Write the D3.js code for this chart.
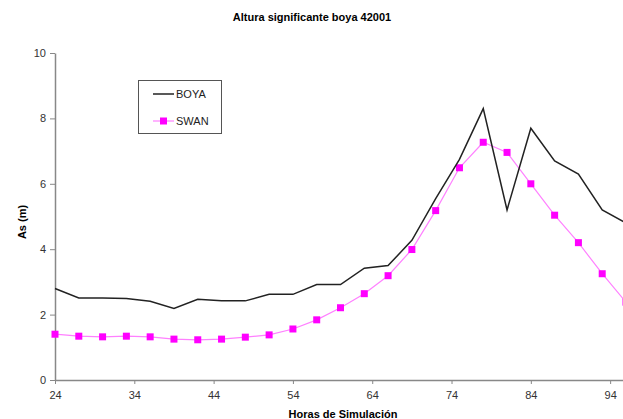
<!DOCTYPE html>
<html>
<head>
<meta charset="utf-8">
<script src="https://cdn.jsdelivr.net/npm/d3@7"></script>
<style>
body { margin: 0; background: #fff; }
svg { display: block; font-family: "Liberation Sans", Arial, sans-serif; }
</style>
</head>
<body>
<div id="chart"></div>
<script>
var hours = [24, 27, 30, 33, 36, 39, 42, 45, 48, 51, 54, 57, 60, 63, 66, 69, 72, 75, 78, 81, 84, 87, 90, 93, 96];
var boya = [2.80, 2.51, 2.51, 2.49, 2.41, 2.19, 2.47, 2.42, 2.42, 2.62, 2.62, 2.92, 2.92, 3.42, 3.50, 4.27, 5.55, 6.75, 8.30, 5.20, 7.70, 6.70, 6.30, 5.20, 4.80];
var swan = [1.40, 1.34, 1.32, 1.34, 1.32, 1.25, 1.23, 1.25, 1.31, 1.38, 1.56, 1.84, 2.21, 2.64, 3.19, 3.99, 5.18, 6.49, 7.27, 6.96, 6.00, 5.04, 4.20, 3.25, 2.38];
var xTicks = [24, 34, 44, 54, 64, 74, 84, 94];
var yTicks = [0, 2, 4, 6, 8, 10];
var seriesNames = ["BOYA", "SWAN"];

var width = 623, height = 419;

var svg = d3.select("#chart")
.append("svg")
.attr("width", width)
.attr("height", height);

// the plot runs past the right edge of the picture
var x = d3.scaleLinear()
.domain([24, 96])
.range([55, 626]);

var y = d3.scaleLinear()
.domain([0, 10])
.range([380, 53]);

// title
svg.append("text")
.attr("x", 312)
.attr("y", 21)
.attr("text-anchor", "middle")
.style("font-size", "11px")
.style("font-weight", "bold")
.text("Altura significante boya 42001");

// axes
var xAxis = svg.append("g")
.attr("transform", "translate(0,380)")
.call(d3.axisBottom(x).tickValues(xTicks).tickSize(4).tickSizeOuter(0).tickFormat(d3.format("d")));

var yAxis = svg.append("g")
.attr("transform", "translate(55,0)")
.call(d3.axisLeft(y).tickValues(yTicks).tickSize(5).tickSizeOuter(0));

[xAxis, yAxis].forEach(function (ax) {
    ax.select(".domain").attr("stroke", "#888").attr("stroke-width", 1.5);
    ax.selectAll(".tick line").attr("stroke", "#888");
    ax.selectAll(".tick text")
    .attr("fill", "#333")
    .style("font-size", "11px")
    .style("font-family", "Liberation Sans, Arial, sans-serif");
});
xAxis.selectAll(".tick text").attr("dy", "1.1em");
yAxis.selectAll(".tick text").attr("x", -9);

// axis labels
svg.append("text")
.attr("x", 343)
.attr("y", 418)
.attr("text-anchor", "middle")
.style("font-size", "11px")
.style("font-weight", "bold")
.text("Horas de Simulación");

svg.append("text")
.attr("transform", "translate(26,222) rotate(-90)")
.attr("text-anchor", "middle")
.style("font-size", "11px")
.style("font-weight", "bold")
.text("As (m)");

var line = d3.line()
.x(function (d) { return x(d[0]); })
.y(function (d) { return y(d[1]); });

var boyaData = hours.map(function (h, i) { return [h, boya[i]]; });
var swanData = hours.map(function (h, i) { return [h, swan[i]]; });

svg.append("path")
.datum(swanData)
.attr("fill", "none")
.attr("stroke", "#ff80ff")
.attr("stroke-width", 1.2)
.attr("d", line);

svg.append("g")
.selectAll("rect")
.data(swanData)
.enter()
.append("rect")
.attr("x", function (d) { return x(d[0]) - 3.5; })
.attr("y", function (d) { return y(d[1]) - 3.5; })
.attr("width", 7)
.attr("height", 7)
.attr("fill", "#ff00ff");

svg.append("path")
.datum(boyaData)
.attr("fill", "none")
.attr("stroke", "#222")
.attr("stroke-width", 1.5)
.attr("d", line);

// legend
var legend = svg.append("g");
legend.append("rect")
.attr("x", 138.5)
.attr("y", 80.5)
.attr("width", 83)
.attr("height", 53)
.attr("fill", "#fff")
.attr("stroke", "#555");

legend.append("line")
.attr("x1", 153).attr("x2", 174)
.attr("y1", 94).attr("y2", 94)
.attr("stroke", "#222")
.attr("stroke-width", 1.5);

legend.append("line")
.attr("x1", 153).attr("x2", 174)
.attr("y1", 121).attr("y2", 121)
.attr("stroke", "#ff80ff")
.attr("stroke-width", 1.2);

legend.append("rect")
.attr("x", 160).attr("y", 117.5)
.attr("width", 7).attr("height", 7)
.attr("fill", "#ff00ff");

legend.selectAll("text.lab")
.data(seriesNames)
.enter()
.append("text")
.attr("x", 176)
.attr("y", function (d, i) { return 98 + i * 27; })
.style("font-size", "11px")
.attr("fill", "#222")
.text(function (d) { return d; });
</script>
</body>
</html>
